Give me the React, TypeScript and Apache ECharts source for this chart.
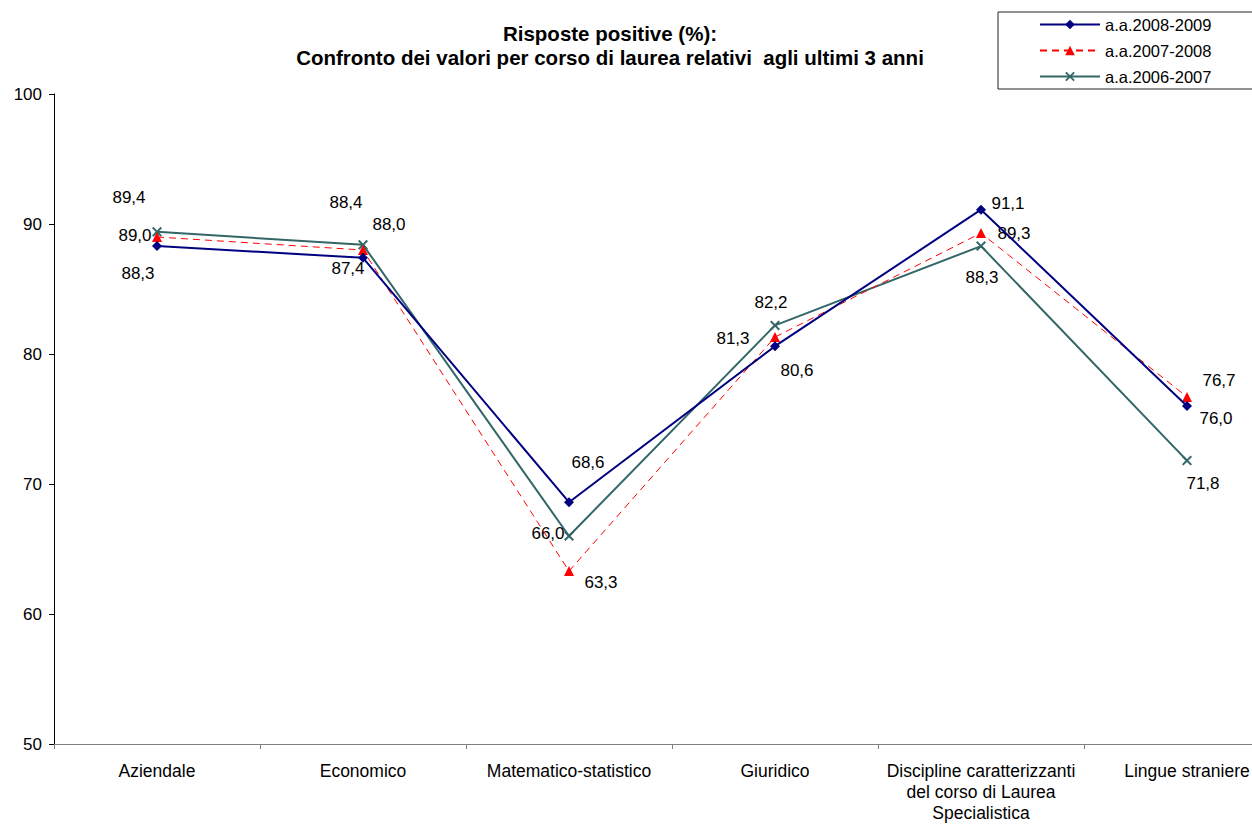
import React, { useEffect, useRef } from "react";
import * as echarts from "echarts";

const categories = [
  "Aziendale",
  "Economico",
  "Matematico-statistico",
  "Giuridico",
  "Discipline caratterizzanti\ndel corso di Laurea\nSpecialistica",
  "Lingue straniere",
];
const seriesNames = ["a.a.2008-2009", "a.a.2007-2008", "a.a.2006-2007"];
const values2008_2009 = [88.3, 87.4, 68.6, 80.6, 91.1, 76.0];
const values2007_2008 = [89.0, 88.0, 63.3, 81.3, 89.3, 76.7];
const values2006_2007 = [89.4, 88.4, 66.0, 82.2, 88.3, 71.8];
const yTicks = { min: 50, max: 100, interval: 10 };

// label offsets (dx, dy) from each point, in pixels
const offsets2008_2009 = [[-19, 27], [-15, 11], [19, -40], [22, 24], [27, -6], [29, 12]];
const offsets2007_2008 = [[-22, -2], [26, -26], [32, 11], [-42, 1], [33, 0], [32, -16]];
const offsets2006_2007 = [[-28, -34], [-17, -42], [-21, -3], [-4, -23], [1, 31], [16, 23]];

const FONT = "Liberation Sans, Arial, sans-serif";
const xSymbol =
  "path://M0,1.4 L1.4,0 L5,3.6 L8.6,0 L10,1.4 L6.4,5 L10,8.6 L8.6,10 L5,6.4 L1.4,10 L0,8.6 L3.6,5 Z";

function fmt(v: number) {
  return v.toFixed(1).replace(".", ",");
}

function buildData(values: number[], offsets: number[][]) {
  return values.map((v, i) => ({
    value: v,
    label: { offset: offsets[i] },
  }));
}

export default function App() {
  const ref = useRef<HTMLDivElement>(null);
  useEffect(() => {
    if (!ref.current) return;
    const chart = echarts.init(ref.current, null, { renderer: "svg" });
    const labelCfg = {
      show: true,
      position: "inside",
      color: "#000",
      fontSize: 17,
      fontFamily: FONT,
      formatter: (p: any) => fmt(p.value),
    };
    chart.setOption({
      animation: false,
      backgroundColor: "#fff",
      textStyle: { fontFamily: FONT },
      title: {
        text: "Risposte positive (%):\nConfronto dei valori per corso di laurea relativi  agli ultimi 3 anni",
        left: 605,
        top: 16,
        textAlign: "center",
        textStyle: {
          fontFamily: FONT,
          fontSize: 20.5,
          fontWeight: "bold",
          color: "#000",
          lineHeight: 24,
        },
      },
      legend: {
        orient: "vertical",
        left: 998,
        top: 12,
        padding: [4, 45, 4, 41],
        itemWidth: 60,
        itemHeight: 12,
        itemGap: 9,
        borderColor: "#222",
        borderWidth: 1,
        textStyle: { fontFamily: FONT, fontSize: 16.5, color: "#000" },
        data: seriesNames,
      },
      grid: {
        left: 54,
        width: 1236,
        top: 94,
        height: 650,
        outerBoundsMode: "none",
        containLabel: false,
      },
      xAxis: {
        type: "category",
        data: categories,
        boundaryGap: true,
        axisLine: { lineStyle: { color: "#808080", width: 1 } },
        axisTick: { show: true, length: 5, lineStyle: { color: "#808080" } },
        axisLabel: {
          color: "#000",
          fontSize: 17.5,
          fontFamily: FONT,
          margin: 16,
          lineHeight: 21,
          interval: 0,
        },
        splitLine: { show: false },
      },
      yAxis: {
        type: "value",
        min: yTicks.min,
        max: yTicks.max,
        interval: yTicks.interval,
        axisLine: { show: true, lineStyle: { color: "#000", width: 1 } },
        axisTick: { show: true, length: 5, lineStyle: { color: "#000" } },
        axisLabel: { color: "#000", fontSize: 17, fontFamily: FONT, margin: 12 },
        splitLine: { show: false },
      },
      series: [
        {
          name: seriesNames[0],
          type: "line",
          data: buildData(values2008_2009, offsets2008_2009),
          symbol: "diamond",
          symbolSize: 10,
          itemStyle: { color: "#000080" },
          lineStyle: { color: "#000080", width: 2 },
          label: labelCfg,
          z: 3,
        },
        {
          name: seriesNames[1],
          type: "line",
          data: buildData(values2007_2008, offsets2007_2008),
          symbol: "triangle",
          symbolSize: 10,
          itemStyle: { color: "#ff0000" },
          lineStyle: { color: "#ff0000", width: 1, type: [7, 5] },
          label: labelCfg,
          z: 2,
        },
        {
          name: seriesNames[2],
          type: "line",
          data: buildData(values2006_2007, offsets2006_2007),
          symbol: xSymbol,
          symbolSize: 10,
          itemStyle: { color: "#336666" },
          lineStyle: { color: "#336666", width: 2 },
          label: labelCfg,
          z: 1,
        },
      ],
    });
    return () => chart.dispose();
  }, []);
  return (
    <div
      ref={ref}
      style={{ position: "fixed", left: 0, top: 0, width: 1252, height: 824 }}
    />
  );
}
